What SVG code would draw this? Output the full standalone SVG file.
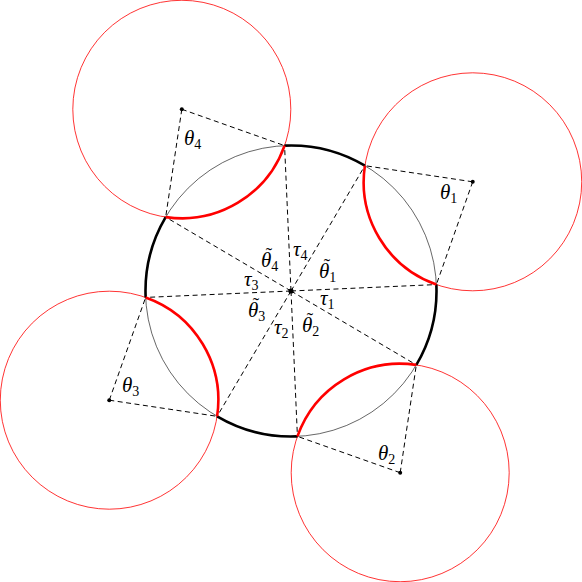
<svg xmlns="http://www.w3.org/2000/svg" width="582" height="582" viewBox="0 0 582 582">
<style>
.bg{fill:#fff}
.red{fill:none;stroke:#ff0000;stroke-width:0.8}
.redthick{fill:none;stroke:#ff0000;stroke-width:2.6}
.main{fill:none;stroke:#000;stroke-width:0.6}
.mainthick{fill:none;stroke:#000;stroke-width:2.6}
.dash{fill:none;stroke:#000;stroke-width:1;stroke-dasharray:5 3.5}
.dot{fill:#000}
text{font-family:"Liberation Serif","DejaVu Serif",serif;font-style:italic;font-size:21px;fill:#000}
.sub{font-style:normal;font-size:14px}
.tl{font-style:normal;font-size:19px;text-anchor:middle}
</style>
<rect class="bg" x="0" y="0" width="582" height="582"/>
<g id="circles">
<circle class="red" cx="472.72" cy="181.81" r="109"/>
<circle class="red" cx="400.19" cy="472.72" r="109"/>
<circle class="red" cx="109.28" cy="400.19" r="109"/>
<circle class="red" cx="181.81" cy="109.28" r="109"/>
<circle class="main" cx="291" cy="291" r="145.5"/>
</g>
<g id="connectors">
<path class="dash" d="M291 291L364.90 165.67M291 291L436.36 284.58M291 291L416.33 364.90M291 291L297.42 436.36M291 291L217.10 416.33M291 291L145.64 297.42M291 291L165.67 217.10M291 291L284.58 145.64"/>
<path class="dash" d="M472.72 181.81L364.90 165.67M472.72 181.81L436.36 284.58M400.19 472.72L416.33 364.90M400.19 472.72L297.42 436.36M109.28 400.19L217.10 416.33M109.28 400.19L145.64 297.42M181.81 109.28L165.67 217.10M181.81 109.28L284.58 145.64"/>
</g>
<g id="arcs">
<path class="mainthick" d="M284.58 145.64A145.5 145.5 0 0 1 364.90 165.67M436.36 284.58A145.5 145.5 0 0 1 416.33 364.90M297.42 436.36A145.5 145.5 0 0 1 217.10 416.33M145.64 297.42A145.5 145.5 0 0 1 165.67 217.10"/>
<path class="redthick" d="M364.90 165.67A109 109 0 0 0 436.36 284.58M416.33 364.90A109 109 0 0 0 297.42 436.36M217.10 416.33A109 109 0 0 0 145.64 297.42M165.67 217.10A109 109 0 0 0 284.58 145.64"/>
</g>
<g id="center">
<circle class="dot" cx="291" cy="291" r="2.6"/>
<text x="319" y="278">θ<tspan class="sub" dy="4">1</tspan></text>
<text class="tl" x="327" y="272">˜</text>
<text x="320" y="305">τ<tspan class="sub" dy="4">1</tspan></text>
<text x="302" y="332">θ<tspan class="sub" dy="4">2</tspan></text>
<text class="tl" x="310" y="326">˜</text>
<text x="274" y="334">τ<tspan class="sub" dy="4">2</tspan></text>
<text x="248" y="317">θ<tspan class="sub" dy="4">3</tspan></text>
<text class="tl" x="256" y="311">˜</text>
<text x="244" y="286">τ<tspan class="sub" dy="4">3</tspan></text>
<text x="261" y="267">θ<tspan class="sub" dy="4">4</tspan></text>
<text class="tl" x="269" y="261">˜</text>
<text x="293" y="256">τ<tspan class="sub" dy="4">4</tspan></text>
</g>
<g id="node1">
<circle class="dot" cx="472.72" cy="181.81" r="2"/>
<text x="440" y="199">θ<tspan class="sub" dy="4">1</tspan></text>
</g>
<g id="node2">
<circle class="dot" cx="400.19" cy="472.72" r="2"/>
<text x="378" y="460">θ<tspan class="sub" dy="4">2</tspan></text>
</g>
<g id="node3">
<circle class="dot" cx="109.28" cy="400.19" r="2"/>
<text x="122" y="392">θ<tspan class="sub" dy="4">3</tspan></text>
</g>
<g id="node4">
<circle class="dot" cx="181.81" cy="109.28" r="2"/>
<text x="184" y="145">θ<tspan class="sub" dy="4">4</tspan></text>
</g>
</svg>
